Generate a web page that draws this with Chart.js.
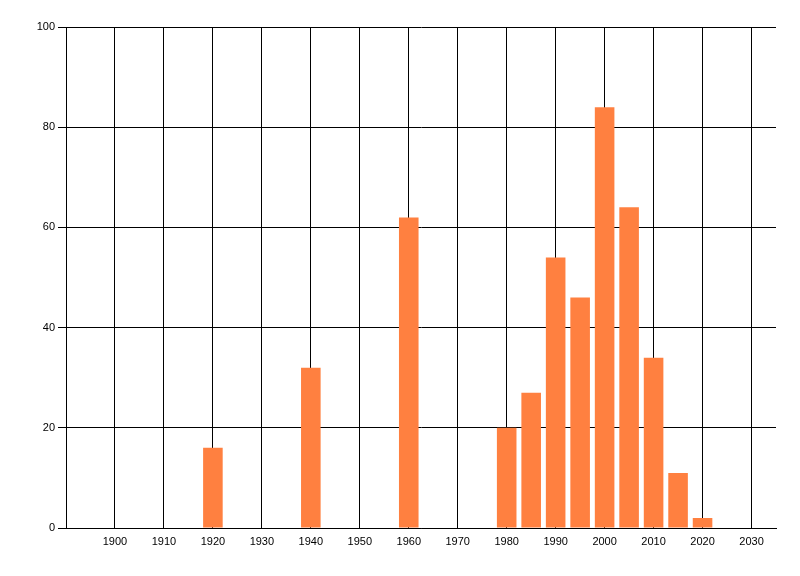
<!DOCTYPE html>
<html>
<head>
<meta charset="utf-8">
<script src="https://cdn.jsdelivr.net/npm/chart.js@4/dist/chart.umd.min.js"></script>
<style>
  html, body { margin: 0; padding: 0; background: #fff; }
  canvas { display: block; }
</style>
</head>
<body>
<canvas id="barChart" width="800" height="576"></canvas>
<script>
const years = [1920, 1940, 1960, 1980, 1985, 1990, 1995, 2000, 2005, 2010, 2015, 2020];
const counts = [16, 32, 62, 20, 27, 54, 46, 84, 64, 34, 11, 2];
const xTicks = [1900, 1910, 1920, 1930, 1940, 1950, 1960, 1970, 1980, 1990, 2000, 2010, 2020, 2030];
const yTicks = [0, 20, 40, 60, 80, 100];

const tickFont = { family: "'Liberation Sans', Arial, sans-serif", size: 11 };

const ctx = document.getElementById("barChart").getContext("2d");
const barChart = new Chart(ctx, {
  type: "bar",
  data: {
    datasets: [
      {
        data: years.map((y, i) => ({ x: y, y: counts[i] })),
        backgroundColor: "#FF8040",
        borderWidth: 0,
        barPercentage: 1,
        categoryPercentage: 0.8,
      },
    ],
  },
  options: {
    responsive: false,
    animation: false,
    devicePixelRatio: 1,
    layout: { padding: { top: 27, right: 24, left: 0, bottom: 0 } },
    plugins: {
      legend: { display: false },
      tooltip: { enabled: false },
    },
    scales: {
      x: {
        type: "linear",
        min: 1890,
        max: 2035,
        offset: false,
        grid: { color: "#000", lineWidth: 1, drawTicks: false, offset: false },
        border: { color: "#000", width: 1 },
        ticks: {
          color: "#000",
          font: tickFont,
          padding: 7,
          autoSkip: false,
          maxRotation: 0,
          callback: (v) => String(v), // plain years, no thousands separator
        },
        afterBuildTicks(scale) {
          scale.ticks = xTicks.map((v) => ({ value: v }));
        },
        afterFit(scale) {
          scale.height = 48; // room below the axis as in the picture
        },
      },
      y: {
        min: 0,
        max: 100,
        grid: { color: "#000", lineWidth: 1, tickLength: 8 },
        border: { color: "#000", width: 1 },
        ticks: { color: "#000", font: tickFont, padding: 3, callback: (v) => String(v) },
        afterBuildTicks(scale) {
          scale.ticks = yTicks.map((v) => ({ value: v }));
        },
        afterFit(scale) {
          scale.width = 66;
        },
      },
    },
  },
});
</script>
</body>
</html>
